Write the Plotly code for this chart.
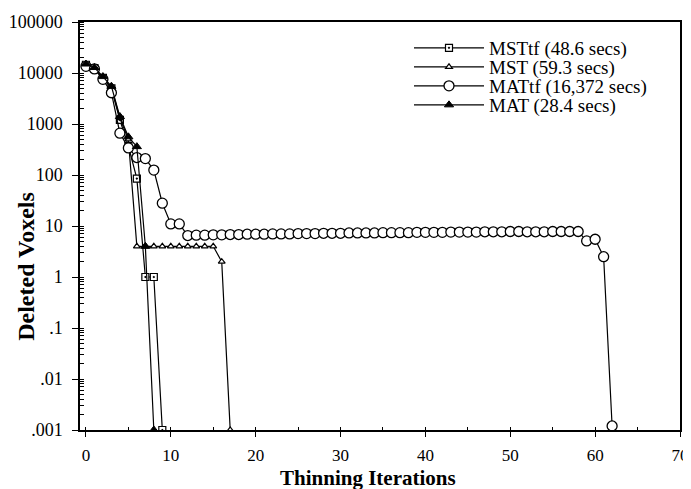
import plotly.graph_objects as go

# ---- data ----
mst_tf_x = [0, 1, 2, 3, 4, 5, 6, 7, 8, 9]
mst_tf_y = [14500, 12500, 8000, 5000, 1200, 370, 85, 1.0, 1.0, 0.001]

mst_x = [0, 1, 2, 3, 4, 5, 6, 7, 8, 9, 10, 11, 12, 13, 14, 15, 16, 17]
mst_y = [14500, 12500, 8000, 5200, 1300, 500, 4, 4, 4, 4, 4, 4, 4, 4, 4, 4, 2.0, 0.001]

mat_tf_x = list(range(0, 63))
mat_tf_y = [13500, 12000, 7500, 4100, 660, 340, 220, 210, 125, 28, 11, 11,
            6.5, 6.6, 6.6, 6.7, 6.7, 6.8, 6.8, 6.9, 6.9, 6.9, 7.0, 7.0, 7.0,
            7.1, 7.1, 7.1, 7.2, 7.2, 7.2, 7.3, 7.3, 7.3, 7.3, 7.4, 7.4, 7.4,
            7.4, 7.5, 7.5, 7.5, 7.5, 7.6, 7.6, 7.6, 7.6, 7.7, 7.7, 7.7, 7.8,
            7.8, 7.7, 7.7, 7.7, 7.8, 7.8, 7.8, 7.8, 5.1, 5.5, 2.5, 0.0012]

mat_x = [0, 1, 2, 3, 4, 5, 6, 7, 8]
mat_y = [15000, 12800, 8500, 5500, 1400, 560, 360, 4, 0.001]

names = ["MSTtf (48.6 secs)", "MST (59.3 secs)", "MATtf (16,372 secs)", "MAT (28.4 secs)"]

y_tickvals = [0.001, 0.01, 0.1, 1, 10, 100, 1000, 10000, 100000]
y_ticktext = [".001", ".01", ".1", "1", "10", "100", "1000", "10000", "100000"]
x_tickvals = [0, 10, 20, 30, 40, 50, 60, 70]

FONT = "Liberation Serif"

fig = go.Figure()
line = dict(color="black", width=1.2)

fig.add_trace(go.Scatter(x=mst_tf_x, y=mst_tf_y, name=names[0], mode="lines+markers",
                         line=line, legend="legend",
                         marker=dict(symbol="square-dot", size=7, color="white",
                                     line=dict(color="black", width=1.2))))
fig.add_trace(go.Scatter(x=mst_x, y=mst_y, name=names[1], mode="lines+markers",
                         line=line, legend="legend2",
                         marker=dict(symbol="triangle-up", size=6, color="white",
                                     line=dict(color="black", width=1.2))))
fig.add_trace(go.Scatter(x=mat_tf_x, y=mat_tf_y, name=names[2], mode="lines+markers",
                         line=line, legend="legend3",
                         marker=dict(symbol="circle", size=10, color="white",
                                     line=dict(color="black", width=1.3))))
fig.add_trace(go.Scatter(x=mat_x, y=mat_y, name=names[3], mode="lines+markers",
                         line=line, legend="legend4",
                         marker=dict(symbol="triangle-up", size=8, color="black",
                                     line=dict(color="black", width=1))))

# The page adds an 8px body margin; figure is sized so the plot area lands at
# x 80..680 px, y 22..430 px in the 691x489 window.
PLOT_W, PLOT_H = 600, 408

def leg(row_px):
    return dict(x=(409 - 80) / PLOT_W, y=(430 - row_px) / PLOT_H, xanchor="left",
                yanchor="middle", bgcolor="rgba(0,0,0,0)", borderwidth=0,
                font=dict(family=FONT, size=19, color="black"), itemwidth=70)

fig.update_layout(
    width=683, height=481,
    margin=dict(l=72, r=11, t=14, b=59),
    paper_bgcolor="white", plot_bgcolor="white",
    font=dict(family=FONT, color="black", size=16),
    showlegend=True,
    legend=leg(48), legend2=leg(67), legend3=leg(86), legend4=leg(105),
    xaxis=dict(range=[-0.7, 70], tickvals=x_tickvals, ticks="outside", ticklen=5,
               tickcolor="black", showline=True, linecolor="black", linewidth=1.5,
               mirror=True, showgrid=False, zeroline=False, automargin=False,
               tickfont=dict(family=FONT, size=17), ticklabelstandoff=4,
               minor=dict(ticks="inside", ticklen=3, dtick=5, tickcolor="black")),
    yaxis=dict(type="log", range=[-3, 5], tickvals=y_tickvals, ticktext=y_ticktext,
               ticks="outside", ticklen=6, tickcolor="black", showline=True,
               linecolor="black", linewidth=1.5, mirror=True, showgrid=False,
               zeroline=False, automargin=False, tickfont=dict(family=FONT, size=18),
               ticklabelstandoff=6,
               minor=dict(ticks="inside", ticklen=4, dtick="D1", tickcolor="black")),
    annotations=[
        dict(text="<b>Deleted Voxels</b>", xref="paper", yref="paper", x=0, y=0.40,
             xanchor="center", yanchor="middle", xshift=-54, textangle=-90,
             showarrow=False, font=dict(family=FONT, size=24, color="black")),
        dict(text="<b>Thinning Iterations</b>", xref="paper", yref="paper", x=0.48, y=0,
             xanchor="center", yanchor="middle", yshift=-48,
             showarrow=False, font=dict(family=FONT, size=21, color="black")),
    ],
)

fig.write_html("out.html")
